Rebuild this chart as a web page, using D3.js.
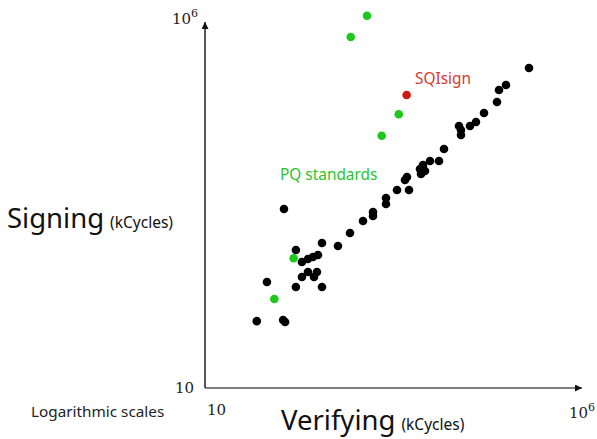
<!DOCTYPE html>
<html>
<head>
<meta charset="utf-8">
<script src="https://cdn.jsdelivr.net/npm/d3@7"></script>
<style>
  body { margin: 0; background: #fff; }
  svg { display: block; }
  .tick-label { font-family: "DejaVu Serif", "Liberation Serif", serif; font-size: 15px; fill: #222; }
  .title { font-family: "Noto Sans", "Open Sans", sans-serif; }
</style>
</head>
<body>
<div id="chart"></div>
<script>
// verifying / signing cost in kCycles, log scales
var blackVerify = [49, 110, 117, 67, 113, 163, 163, 196, 196, 236, 275, 321, 236, 311, 284, 363,
  363, 593, 858, 1279, 1738, 1738, 2590, 2590, 3631, 5248, 4642, 4934, 7356, 8066, 8577, 7586,
  10000, 13183, 15370, 24360, 25880, 25880, 34140, 41020, 52480, 78200, 83180, 103000, 208900];
var blackSign = [81, 84, 79, 275, 2700, 750, 236, 322, 515, 566, 603, 641, 377, 377, 322, 236,
  933, 849, 1277, 1858, 2173, 2461, 3162, 3816, 4898, 4898, 6699, 7362, 9465, 10725, 8872, 8090,
  12140, 12140, 17650, 36300, 32000, 27400, 36300, 41100, 54450, 76900, 112000, 131000, 223000];

var pqVerify = [1445, 877, 3827, 2270, 152, 84];
var pqSign = [1140000, 587000, 52400, 26800, 578, 162];

var sqiVerify = [4880];
var sqiSign = [95700];

var axisMin = 10;
var axisMax = 1e6;

(function () {
  'use strict';
  var w = 597;
  var h = 439;

  var svg = d3.select('#chart').append('svg')
    .attr('width', w).attr('height', h);

  var x = d3.scaleLog().domain([axisMin, axisMax]).range([205, 580]);
  var y = d3.scaleLog().domain([axisMin, axisMax]).range([388, 20]);

  var defs = svg.append('defs');
  defs.append('marker')
    .attr('id', 'arrow')
    .attr('viewBox', '0 0 10 10')
    .attr('refX', 10).attr('refY', 5)
    .attr('markerWidth', 7).attr('markerHeight', 7)
    .attr('markerUnits', 'userSpaceOnUse')
    .attr('orient', 'auto')
    .append('path')
    .attr('d', 'M0,0 L10,5 L0,10 z')
    .attr('fill', '#111');

  // axes
  svg.append('line')
    .attr('x1', x(axisMin)).attr('y1', y(axisMin))
    .attr('x2', x(axisMax) + 2).attr('y2', y(axisMin))
    .attr('stroke', '#555').attr('stroke-width', 1.6)
    .attr('marker-end', 'url(#arrow)');
  svg.append('line')
    .attr('x1', x(axisMin)).attr('y1', y(axisMin))
    .attr('x2', x(axisMin)).attr('y2', y(axisMax) + 2)
    .attr('stroke', '#111').attr('stroke-width', 1.4)
    .attr('marker-end', 'url(#arrow)');

  function powLabel(g, v) {
    var e = Math.round(Math.log10(v));
    if (e === 1) {
      g.text('10');
    } else {
      g.append('tspan').text('10');
      g.append('tspan').attr('font-size', 11).attr('dy', -7).text(e);
    }
  }

  // tick labels, only the two ends
  svg.append('text').attr('class', 'tick-label')
    .attr('x', x(axisMin) + 2).attr('y', 415)
    .call(powLabel, axisMin);
  svg.append('text').attr('class', 'tick-label')
    .attr('x', x(axisMax) + 2).attr('y', 418)
    .attr('text-anchor', 'middle')
    .call(powLabel, axisMax);
  svg.append('text').attr('class', 'tick-label')
    .attr('x', 194).attr('y', y(axisMin) + 5)
    .attr('text-anchor', 'end')
    .call(powLabel, axisMin);
  svg.append('text').attr('class', 'tick-label')
    .attr('x', 198).attr('y', 24)
    .attr('text-anchor', 'end')
    .call(powLabel, axisMax);

  // axis titles
  var ty = svg.append('text').attr('class', 'title').attr('fill', '#111')
    .attr('x', 7).attr('y', 228);
  ty.append('tspan').attr('font-size', 27.5).text('Signing');
  ty.append('tspan').attr('font-size', 15.5).attr('dx', 6).text('(kCycles)');

  var tx = svg.append('text').attr('class', 'title').attr('fill', '#111')
    .attr('x', 281).attr('y', 430);
  tx.append('tspan').attr('font-size', 27.5).text('Verifying');
  tx.append('tspan').attr('font-size', 15.5).attr('dx', 6).text('(kCycles)');

  svg.append('text').attr('class', 'title')
    .attr('x', 31).attr('y', 417)
    .attr('font-size', 15.3).attr('fill', '#222')
    .text('Logarithmic scales');

  // points
  function drawDots(xs, ys, color) {
    svg.append('g').selectAll('circle')
      .data(d3.zip(xs, ys)).enter()
      .append('circle')
      .attr('cx', function (d) { return x(d[0]); })
      .attr('cy', function (d) { return y(d[1]); })
      .attr('r', 4.3)
      .attr('fill', color);
  }
  drawDots(blackVerify, blackSign, '#000');
  drawDots(pqVerify, pqSign, '#1dc81d');
  drawDots(sqiVerify, sqiSign, '#cc1a10');

  svg.append('text').attr('class', 'title')
    .attr('x', 280).attr('y', 180)
    .attr('font-size', 15.4).attr('fill', '#2bc42b')
    .text('PQ standards');
  svg.append('text').attr('class', 'title')
    .attr('x', 415).attr('y', 84)
    .attr('font-size', 15.4).attr('fill', '#d63a32')
    .text('SQIsign');
})();
</script>
</body>
</html>
